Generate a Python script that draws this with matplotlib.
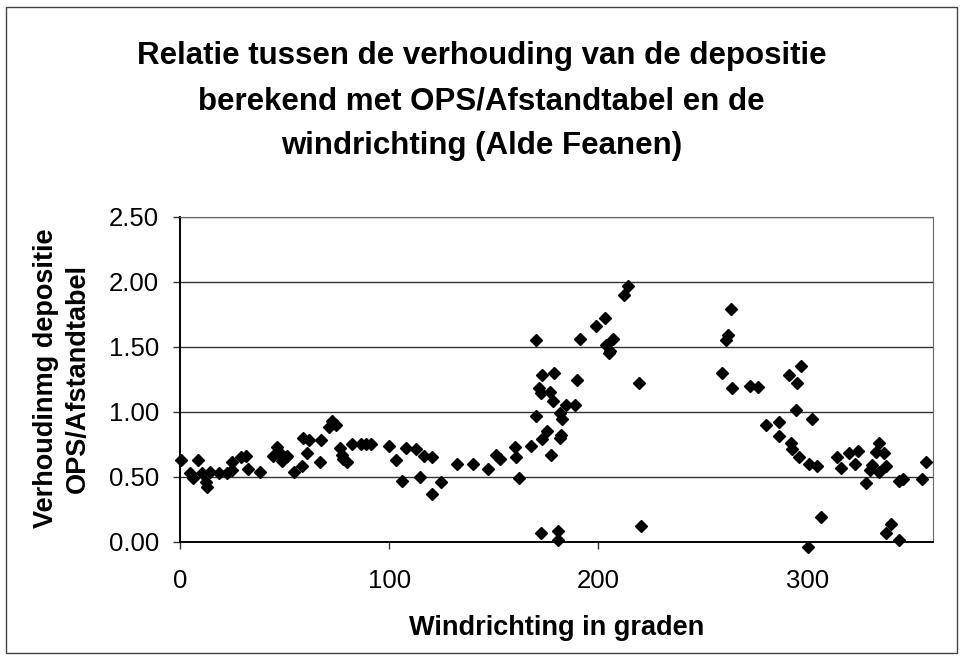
"""
Relatie tussen verhouding depositie (OPS/Afstandtabel) en windrichting - Alde Feanen
"""

import matplotlib.pyplot as plt
from matplotlib.patches import Rectangle

plt.rcParams['font.family'] = ['Liberation Sans', 'DejaVu Sans']

# windrichting (graden) en verhouding OPS/Afstandtabel
windrichting = [
    0.3, 4.8, 6.1, 8.7, 10.3, 12.4, 12.7, 14.3, 18.8, 22.6,
    24.7, 24.7, 29.0, 31.5, 32.6, 38.2, 44.2, 46.4, 47.7, 48.5,
    50.5, 51.2, 54.4, 58.5, 58.8, 61.7, 60.5, 66.8, 67.6, 71.3,
    72.4, 74.5, 76.4, 77.2, 78.0, 79.6, 82.0, 86.7, 89.0, 91.4,
    99.9, 103.1, 106.3, 108.2, 112.6, 114.6, 116.7, 120.6, 120.6, 124.9,
    132.4, 140.0, 147.2, 151.2, 152.7, 160.0, 160.4, 162.0, 167.9, 170.2,
    170.2, 171.8, 172.4, 172.8, 172.4, 172.9, 175.3, 176.9, 178.2, 178.8,
    177.5, 180.5, 180.5, 181.4, 182.6, 181.4, 182.2, 184.6, 189.0, 189.7,
    191.0, 198.9, 203.2, 203.7, 205.7, 206.8, 205.0, 212.0, 214.3, 219.6,
    220.4, 259.3, 260.9, 262.1, 263.3, 263.8, 272.3, 276.5, 280.3, 286.1,
    286.1, 290.9, 294.7, 296.8, 294.4, 292.0, 292.5, 296.0, 300.7, 301.9,
    304.7, 300.0, 306.3, 313.9, 315.8, 319.8, 322.6, 324.2, 328.1, 329.7,
    330.6, 332.5, 334.1, 334.1, 336.5, 337.3, 337.6, 339.7, 343.7, 343.7,
    345.6, 354.5, 356.4,
]
verhouding = [
    0.63, 0.53, 0.49, 0.63, 0.53, 0.46, 0.42, 0.54, 0.53, 0.53,
    0.55, 0.61, 0.65, 0.66, 0.56, 0.54, 0.66, 0.73, 0.68, 0.62,
    0.65, 0.66, 0.54, 0.58, 0.80, 0.78, 0.68, 0.61, 0.78, 0.88,
    0.93, 0.90, 0.72, 0.67, 0.64, 0.61, 0.75, 0.75, 0.75, 0.75,
    0.74, 0.63, 0.47, 0.72, 0.71, 0.50, 0.66, 0.65, 0.37, 0.46,
    0.60, 0.60, 0.56, 0.67, 0.64, 0.73, 0.65, 0.49, 0.74, 1.55,
    0.97, 1.18, 1.14, 1.28, 0.07, 0.79, 0.85, 1.15, 1.08, 1.30,
    0.67, 0.08, 0.01, 0.99, 0.94, 0.80, 0.82, 1.05, 1.05, 1.24,
    1.56, 1.66, 1.72, 1.51, 1.47, 1.56, 1.45, 1.90, 1.97, 1.22,
    0.12, 1.30, 1.55, 1.59, 1.79, 1.18, 1.20, 1.19, 0.90, 0.92,
    0.81, 1.28, 1.22, 1.35, 1.01, 0.76, 0.71, 0.65, 0.60, 0.94,
    0.58, -0.04, 0.19, 0.65, 0.57, 0.68, 0.60, 0.70, 0.45, 0.55,
    0.59, 0.69, 0.76, 0.54, 0.68, 0.58, 0.07, 0.14, 0.01, 0.47,
    0.48, 0.48, 0.61,
]

x_ticks = [0, 100, 200, 300]
y_ticks = [0.0, 0.5, 1.0, 1.5, 2.0, 2.5]

fig = plt.figure(figsize=(9.63, 6.62), dpi=100)

# rand om het hele diagram
fig.patches.append(Rectangle((0.006, 0.013), 0.988, 0.977, transform=fig.transFigure,
                             fill=False, edgecolor='#444444', linewidth=1.0))

ax = fig.add_axes([0.187, 0.1817, 0.782, 0.491])

ax.plot(windrichting, verhouding, linestyle='none', marker='D', color='black',
        markersize=6.5, clip_on=False, zorder=3)

ax.set_xlim(0, 360)
ax.set_ylim(0, 2.5)
ax.set_xticks(x_ticks)
ax.set_yticks(y_ticks)
ax.set_yticklabels([f"{v:.2f}" for v in y_ticks])
ax.tick_params(axis='both', labelsize=18.5, direction='out', length=5, width=1, color='#333333')
ax.tick_params(axis='x', pad=15)
ax.tick_params(axis='y', pad=10)

ax.grid(axis='y', color='#333333', linewidth=1.0)
ax.set_axisbelow(True)
for side in ['left', 'bottom']:
    ax.spines[side].set_color('black')
    ax.spines[side].set_linewidth(1.4)
for side in ['top', 'right']:
    ax.spines[side].set_color('#666666')
    ax.spines[side].set_linewidth(0.8)

fig.text(0.5, 0.847, "Relatie tussen de verhouding van de depositie\n"
                     "berekend met OPS/Afstandtabel en de\n"
                     "windrichting (Alde Feanen)",
         ha='center', va='center', fontsize=22.5, fontweight='bold', linespacing=1.65)

fig.text(0.578, 0.052, "Windrichting in graden", ha='center', va='center',
         fontsize=19.5, fontweight='bold')
fig.text(0.064, 0.429, "Verhoudinmg depositie\nOPS/Afstandtabel", ha='center', va='center',
         rotation=90, fontsize=19.5, fontweight='bold', multialignment='center',
         linespacing=1.3)

plt.savefig('out.png', dpi=100)
